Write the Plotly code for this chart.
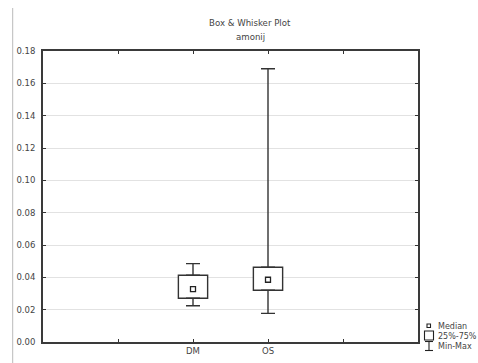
import plotly.graph_objects as go

# ---- data ----
categories = ["DM", "OS"]
cat_pos = [2, 3]
minimum = [0.0224, 0.0177]
q1 = [0.0271, 0.0320]
median = [0.0327, 0.0385]
q3 = [0.0413, 0.0462]
maximum = [0.0485, 0.1690]
y_ticks = [0.00, 0.02, 0.04, 0.06, 0.08, 0.10, 0.12, 0.14, 0.16, 0.18]

FONT = "DejaVu Sans"
TXT = "#444444"
LINE = "#333333"

W, H = 478, 363
L, R, T, B = 43, 418, 51, 342


def px_x(x):
    return (x - L) / (R - L)


def px_y(y):
    return (B - y) / (B - T)


fig = go.Figure()

# boxes (25%-75%)
fig.add_trace(go.Bar(
    x=cat_pos, base=q1, y=[b - a for a, b in zip(q1, q3)],
    width=0.39, marker=dict(color="white", line=dict(color=LINE, width=1.4)),
    hoverinfo="skip", showlegend=False,
))
# upper whiskers
fig.add_trace(go.Scatter(
    x=cat_pos, y=q3, mode="markers",
    marker=dict(size=1, color="rgba(0,0,0,0)"),
    error_y=dict(type="data", symmetric=False,
                 array=[m - q for m, q in zip(maximum, q3)],
                 arrayminus=[0, 0], color=LINE, thickness=1.4, width=7),
    hoverinfo="skip", showlegend=False,
))
# lower whiskers
fig.add_trace(go.Scatter(
    x=cat_pos, y=q1, mode="markers",
    marker=dict(size=1, color="rgba(0,0,0,0)"),
    error_y=dict(type="data", symmetric=False,
                 array=[0, 0],
                 arrayminus=[q - m for m, q in zip(minimum, q1)],
                 color=LINE, thickness=1.4, width=7),
    hoverinfo="skip", showlegend=False,
))
# medians
fig.add_trace(go.Scatter(
    x=cat_pos, y=median, mode="markers",
    marker=dict(symbol="square-open", size=5, color="#222222",
                line=dict(width=1.3)),
    hoverinfo="skip", showlegend=False,
))

shapes = []
annotations = []

# page border line on the left
shapes.append(dict(type="line", xref="paper", yref="paper",
                   x0=px_x(12.7), x1=px_x(12.7), y0=px_y(8), y1=px_y(363),
                   line=dict(color="#bbbbbb", width=1)))

# title
annotations.append(dict(text="Box & Whisker Plot", xref="paper", yref="paper",
                        x=px_x(250), y=px_y(23), showarrow=False,
                        xanchor="center", yanchor="middle",
                        font=dict(family=FONT, size=8.6, color=TXT)))
annotations.append(dict(text="amonij", xref="paper", yref="paper",
                        x=px_x(250), y=px_y(37), showarrow=False,
                        xanchor="center", yanchor="middle",
                        font=dict(family=FONT, size=8.6, color=TXT)))

# legend
shapes.append(dict(type="rect", xref="paper", yref="paper",
                   x0=px_x(427), x1=px_x(430.5), y0=px_y(324), y1=px_y(327.5),
                   line=dict(color="#222222", width=1.1), fillcolor="white"))
shapes.append(dict(type="rect", xref="paper", yref="paper",
                   x0=px_x(424.5), x1=px_x(433.5), y0=px_y(331), y1=px_y(340),
                   line=dict(color="#222222", width=1.1), fillcolor="white"))
shapes.append(dict(type="line", xref="paper", yref="paper",
                   x0=px_x(425), x1=px_x(433), y0=px_y(341.5), y1=px_y(341.5),
                   line=dict(color="#222222", width=1.1)))
shapes.append(dict(type="line", xref="paper", yref="paper",
                   x0=px_x(429), x1=px_x(429), y0=px_y(341.5), y1=px_y(350.5),
                   line=dict(color="#222222", width=1.1)))
shapes.append(dict(type="line", xref="paper", yref="paper",
                   x0=px_x(425), x1=px_x(433), y0=px_y(350.5), y1=px_y(350.5),
                   line=dict(color="#222222", width=1.1)))
for label, yy in [("Median", 326), ("25%-75%", 336), ("Min-Max", 346)]:
    annotations.append(dict(text=label, xref="paper", yref="paper",
                            x=px_x(436), y=px_y(yy), showarrow=False,
                            xanchor="left", yanchor="middle",
                            font=dict(family=FONT, size=8, color=TXT)))

fig.update_layout(
    template="none",
    width=W, height=H, autosize=False,
    margin=dict(l=L, r=W - R, t=T, b=H - B, pad=0, autoexpand=False),
    paper_bgcolor="white", plot_bgcolor="white",
    font=dict(family=FONT, size=8.5, color=TXT),
    shapes=shapes, annotations=annotations,
    xaxis=dict(range=[0, 5], tickvals=[1, 2, 3, 4],
               ticktext=["", categories[0], categories[1], ""],
               ticks="inside", ticklen=3, tickcolor=LINE, tickwidth=1.3,
               showline=True, linecolor="#3a3a3a", linewidth=1.8,
               mirror="ticks", showgrid=False, zeroline=False,
               automargin=False, fixedrange=True),
    yaxis=dict(range=[0, 0.18], tickvals=y_ticks, tickformat=".2f",
               ticks="inside", ticklen=3, tickcolor=LINE, tickwidth=1.3,
               showline=True, linecolor="#3a3a3a", linewidth=1.8,
               mirror="ticks", showgrid=True, gridcolor="#e2e2e2",
               gridwidth=1, zeroline=False, ticklabelstandoff=4,
               automargin=False, fixedrange=True),
    showlegend=False,
)

fig.write_html(
    "out.html",
    config=dict(displayModeBar=False, responsive=False),
    post_script="document.body.style.margin='0';document.body.style.overflow='hidden';",
)
